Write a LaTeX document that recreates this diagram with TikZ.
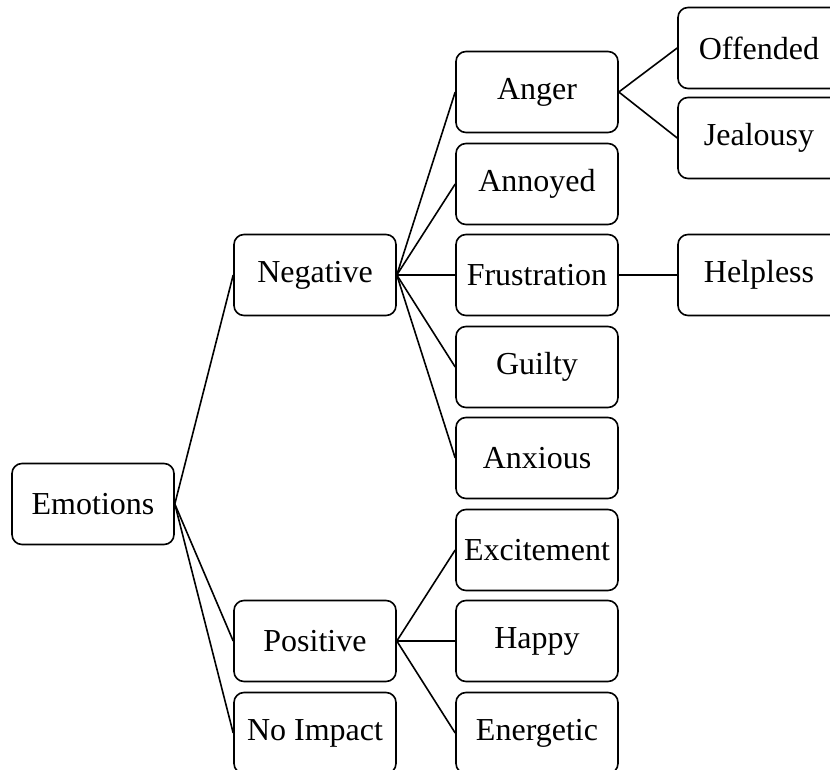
\documentclass[tikz,border=0pt]{standalone}
\usepackage{fontspec}
\setmainfont{Liberation Serif}
\usetikzlibrary{positioning}
\tikzset{
  every node/.style={font=\fontsize{32}{38}\selectfont},
  box/.style={draw, rounded corners=10pt, minimum width=162pt, minimum height=81pt, inner sep=0pt}
  }

\begin{document}
\begin{tikzpicture}[x=1pt, y=-1pt, line width=1.6pt]
    \useasboundingbox (0,0) rectangle (830,770);

    \node [box] at (93,504) (emo) {Emotions};

    \node [box] at (315,275) (neg) {Negative};
    \node [box] at (315,641) (pos) {Positive};
    \node [box] at (315,733) (noimp) {No Impact};

    \node [box] at (537,92) (anger) {Anger};
    \node [box] at (537,184) (annoyed) {Annoyed};
    \node [box] at (537,275) (frus) {Frustration};
    \node [box] at (537,367) (guilty) {Guilty};
    \node [box] at (537,458) (anxious) {Anxious};
    \node [box] at (537,550) (excite) {Excitement};
    \node [box] at (537,641) (happy) {Happy};
    \node [box] at (537,733) (energetic) {Energetic};

    \node [box] at (759,48) (offended) {Offended};
    \node [box] at (759,138) (jealousy) {Jealousy};
    \node [box] at (759,275) (helpless) {Helpless};
    % first level
    \draw (emo.east) -- (neg.west);
    \draw (emo.east) -- (pos.west);
    \draw (emo.east) -- (noimp.west);
    % negative branch
    \foreach \n in {anger, annoyed, frus, guilty, anxious}
      \draw (neg.east) -- (\n.west);
    % positive branch
    \foreach \n in {excite, happy, energetic}
      \draw (pos.east) -- (\n.west);
    % third level
    \draw (anger.east) -- (offended.west);
    \draw (anger.east) -- (jealousy.west);
    \draw (frus.east) -- (helpless.west);
\end{tikzpicture}
\end{document}
